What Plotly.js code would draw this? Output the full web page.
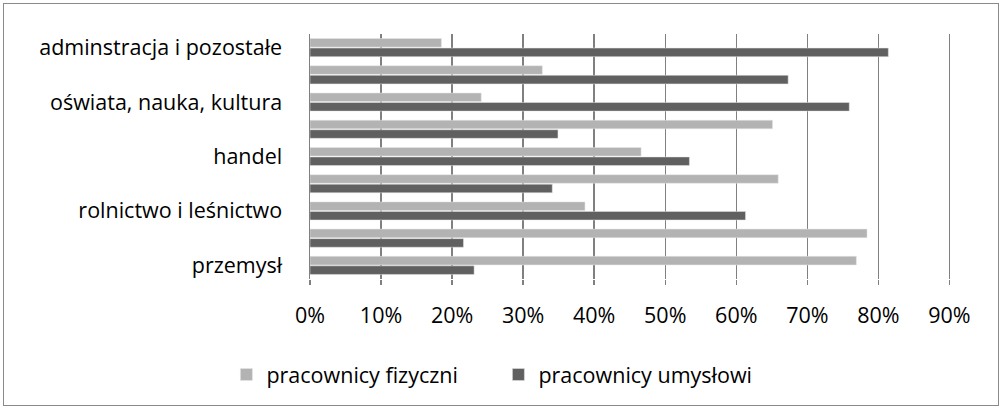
<!DOCTYPE html>
<html>
<head>
<meta charset="utf-8">
<script src="https://cdn.plot.ly/plotly-3.0.1.min.js"></script>
<style>
html,body{margin:0;padding:0;background:#fff;}
#wrap{position:relative;width:1002px;height:408px;}
#chart{width:1002px;height:408px;}
#frame{position:absolute;left:3px;top:3px;width:994px;height:401px;border:1px solid #8a8a8a;pointer-events:none;}
</style>
</head>
<body>
<div id="wrap"><div id="chart"></div><div id="frame"></div></div>
<script>
// categories listed top to bottom
const categories = [
  "adminstracja i pozostałe",
  "ochrona zdrowia",
  "oświata, nauka, kultura",
  "gospodarka komunalna",
  "handel",
  "transport i łączność",
  "rolnictwo i leśnictwo",
  "budownictwo",
  "przemysł"
];
const labeledCategories = [
  "adminstracja i pozostałe",
  "oświata, nauka, kultura",
  "handel",
  "rolnictwo i leśnictwo",
  "przemysł"
];
const fizyczni = [0.185, 0.327, 0.241, 0.651, 0.466, 0.659, 0.387, 0.784, 0.769];
const umyslowi = [0.814, 0.673, 0.759, 0.349, 0.534, 0.341, 0.613, 0.216, 0.231];
const seriesNames = ["pracownicy fizyczni", "pracownicy umysłowi"];
const xTickVals = [0, 0.1, 0.2, 0.3, 0.4, 0.5, 0.6, 0.7, 0.8, 0.9];

const font = "'Open Sans', 'Liberation Sans', sans-serif";
const traces = [
  {type:"bar", orientation:"h", name:seriesNames[0], y:categories, x:fizyczni,
   marker:{color:"#b3b3b3", line:{color:"#e6e6e6", width:0.5}}, hoverinfo:"x+y"},
  {type:"bar", orientation:"h", name:seriesNames[1], y:categories, x:umyslowi,
   marker:{color:"#606060", line:{color:"#e6e6e6", width:0.5}}, hoverinfo:"x+y"}
];
const layout = {
  width:1002, height:408,
  margin:{l:310, r:49, t:34, b:129},
  paper_bgcolor:"#fff", plot_bgcolor:"#fff",
  barmode:"group", bargap:0.3, bargroupgap:0.1,
  font:{family:font, size:21.5, color:"#000"},
  showlegend:true,
  legend:{orientation:"h", x:-0.13, xanchor:"left", y:-0.39, yanchor:"middle",
          font:{family:font, size:21.5, color:"#000"}, entrywidth:227, entrywidthmode:"pixels",
          traceorder:"normal"},
  xaxis:{range:[0,0.905], tickvals:xTickVals, tickformat:".0%", showgrid:true,
         gridcolor:"#808080", gridwidth:1.5, zeroline:false, showline:false,
         ticks:"outside", ticklen:5, tickcolor:"#808080", tickwidth:1.5,
         ticklabelstandoff:12, fixedrange:true},
  yaxis:{type:"category", categoryorder:"array", categoryarray:categories,
         autorange:"reversed", tickvals:labeledCategories, ticktext:labeledCategories,
         showline:true, linecolor:"#808080", linewidth:1.5, ticks:"", showgrid:false,
         ticklabelstandoff:22, fixedrange:true}
};
Plotly.newPlot("chart", traces, layout, {displayModeBar:false, staticPlot:true});
</script>
</body>
</html>
